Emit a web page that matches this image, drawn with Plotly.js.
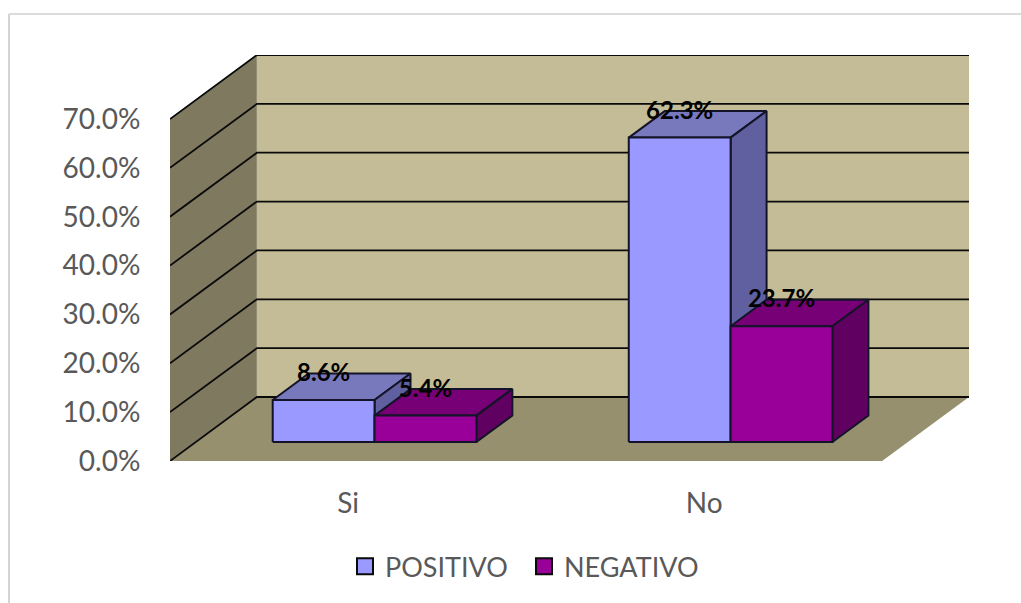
<!DOCTYPE html>
<html>
<head>
<meta charset="utf-8">
<script src="https://cdn.plot.ly/plotly-3.0.1.min.js"></script>
<style>html,body{margin:0;padding:0;background:#fff}#chart{width:1021px;height:603px}</style>
</head>
<body>
<div id="chart"></div>
<script>
// Survey shares per answer
const categories = ['Si', 'No'];
const positivo = [8.6, 62.3];
const negativo = [5.4, 23.7];
const seriesNames = ['POSITIVO', 'NEGATIVO'];
const valueTicks = [0, 10, 20, 30, 40, 50, 60, 70];

// Oblique projection of the box: depth runs 0 (front of floor) to 1 (back wall)
const depthX = 0.244;     // horizontal shift at full depth, in category units
const depthV = 13.1;      // vertical shift at full depth, in percent units
const barNear = 0.297;    // bars occupy this slice of the depth
const barFar = 0.711;
const barWidth = 0.286;   // per series, in category units
const axisMax = valueTicks[valueTicks.length - 1];
const nCat = categories.length;

const project = (x, v, d) => [x + d * depthX, v + d * depthV];

function face(points, fill, line, width) {
  const p = points.map(q => project(q[0], q[1], q[2]));
  p.push(p[0]);
  return {
    type: 'scatter', mode: 'lines', x: p.map(q => q[0]), y: p.map(q => q[1]),
    fill: 'toself', fillcolor: fill,
    line: { color: line || fill, width: width === undefined ? 2 : width },
    hoverinfo: 'skip', showlegend: false
  };
}

const traces = [];

// Walls and floor
traces.push(face([[0, 0, 0], [0, 0, 1], [0, axisMax, 1], [0, axisMax, 0]], '#7e795f', '#7e795f', 0));
traces.push(face([[0, 0, 1], [nCat, 0, 1], [nCat, axisMax, 1], [0, axisMax, 1]], '#c4bc96', '#c4bc96', 0));
traces.push(face([[0, 0, 0], [nCat, 0, 0], [nCat, 0, 1], [0, 0, 1]], '#96906f', '#96906f', 0));

// Gridlines run along the side wall, then across the back wall
valueTicks.forEach(v => {
  const p = [project(0, v, 0), project(0, v, 1), project(nCat, v, 1)];
  traces.push({
    type: 'scatter', mode: 'lines', x: p.map(q => q[0]), y: p.map(q => q[1]),
    line: { color: '#0a0a0a', width: 1.8 }, hoverinfo: 'skip', showlegend: false
  });
});

// One box per value
const palettes = [
  { front: '#9999ff', top: '#7878bd', side: '#6060a0' },
  { front: '#990099', top: '#770077', side: '#600060' }
];
const edge = '#141428';
const labelX = [], labelY = [], labelText = [];

[positivo, negativo].forEach((values, s) => {
  const c = palettes[s];
  values.forEach((v, i) => {
    const x0 = i + 0.5 - barWidth + 0.002 + s * barWidth;
    const x1 = x0 + barWidth;
    traces.push(face([[x0, v, barNear], [x1, v, barNear], [x1, v, barFar], [x0, v, barFar]], c.top, edge));
    traces.push(face([[x1, 0, barNear], [x1, 0, barFar], [x1, v, barFar], [x1, v, barNear]], c.side, edge));
    traces.push(face([[x0, 0, barNear], [x1, 0, barNear], [x1, v, barNear], [x0, v, barNear]], c.front, edge));
    // Label sits over the middle of the front edge, at the height of the back edge
    labelX.push(project(x0 + barWidth / 2, v, barNear)[0]);
    labelY.push(project(x0, v, barFar)[1] - 0.3);
    labelText.push(v.toFixed(1) + '%');
  });
});

// Value labels
traces.push({
  type: 'scatter', mode: 'text', x: labelX, y: labelY, text: labelText,
  textposition: 'middle center', cliponaxis: false,
  textfont: { family: 'Lato, sans-serif', size: 24, color: '#000', weight: 700 },
  hoverinfo: 'skip', showlegend: false
});

// Legend entries
palettes.forEach((c, s) => {
  traces.push({
    type: 'scatter', mode: 'markers', x: [null], y: [null], name: seriesNames[s],
    marker: { symbol: 'square', size: 17, color: c.front, line: { color: '#0a0a0a', width: 2 } }
  });
});

const layout = {
  width: 1021, height: 603,
  margin: { l: 170, r: 52, t: 55, b: 142 },
  paper_bgcolor: '#fff', plot_bgcolor: 'rgba(0,0,0,0)',
  font: { family: 'Lato, sans-serif', color: '#595959' },
  xaxis: {
    range: [0, nCat + depthX], showgrid: false, zeroline: false, showline: false,
    tickmode: 'array', tickvals: categories.map((_, i) => i + 0.5), ticktext: categories,
    ticks: 'outside', ticklen: 17, tickcolor: 'rgba(0,0,0,0)', tickfont: { size: 28, color: '#595959' }
  },
  yaxis: {
    range: [0, axisMax + depthV], showgrid: false, zeroline: false, showline: false,
    tickmode: 'array', tickvals: valueTicks, ticktext: valueTicks.map(v => v.toFixed(1) + '%'),
    ticks: 'outside', ticklen: 23, tickcolor: 'rgba(0,0,0,0)', tickfont: { size: 28, color: '#595959' }
  },
  legend: {
    orientation: 'h', xref: 'paper', yref: 'paper', x: 0.219, y: -0.2, xanchor: 'left', yanchor: 'top',
    entrywidth: 134, entrywidthmode: 'pixels',
    font: { size: 27, color: '#595959' }, bgcolor: 'rgba(0,0,0,0)'
  },
  // Open frame along the top and left of the page
  shapes: [
    { type: 'line', xref: 'paper', yref: 'paper', layer: 'below',
      x0: -161 / 799, x1: 851 / 799, y0: 1 + 41 / 406, y1: 1 + 41 / 406,
      line: { color: '#dcdcdc', width: 2 } },
    { type: 'line', xref: 'paper', yref: 'paper', layer: 'below',
      x0: -161 / 799, x1: -161 / 799, y0: 1 + 41 / 406, y1: -142 / 406,
      line: { color: '#d4d4d4', width: 2 } }
  ],
  showlegend: true, hovermode: false
};

Plotly.newPlot('chart', traces, layout, { displayModeBar: false, staticPlot: true });
</script>
</body>
</html>
